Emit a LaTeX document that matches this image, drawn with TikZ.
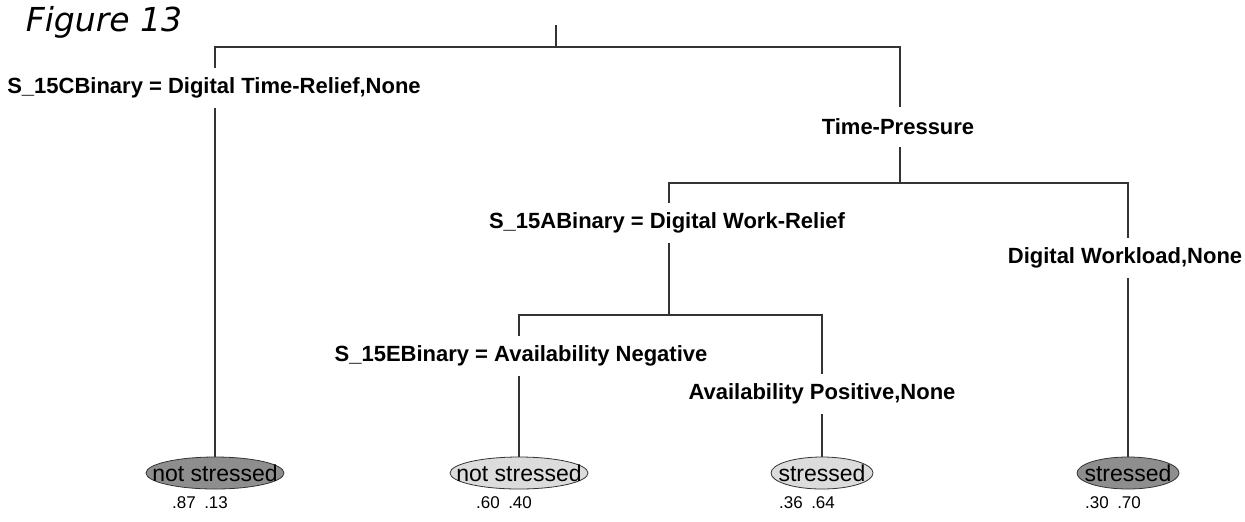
\documentclass[tikz,border=0pt]{standalone}
\usepackage{fontspec}
\setmainfont{Liberation Sans}
\newfontfamily\titlefont{DejaVu Sans}
\usetikzlibrary{shapes.geometric}

\definecolor{darkleaf}{HTML}{8E8E8E}
\definecolor{lightleaf}{HTML}{DCDCDC}
\definecolor{treeline}{HTML}{333333}

\tikzset{
    split/.style={fill=white, inner xsep=2pt, minimum height=20pt, font=\fontsize{11}{13}\selectfont\bfseries},
    leaf/.style={ellipse, draw=treeline, inner sep=0pt, minimum height=16pt, font=\fontsize{11.5}{13}\selectfont},
    prob/.style={font=\fontsize{8.5}{10}\selectfont},
    branch/.style={draw=treeline, line width=0.75pt}
}

\begin{document}
\begin{tikzpicture}[x=0.5pt, y=-0.5pt]

        % Fix the page to the reference size
        \useasboundingbox (0,0) rectangle (1245,521);

        % Title
        \node[font=\titlefont\itshape\fontsize{16.5}{18}\selectfont] (title) at (104,22) {Figure 13};

        % Root and branching points
        \coordinate (root) at (556,25);
        \coordinate (J0) at (556,47);
        \coordinate (J1) at (900,183);
        \coordinate (J2) at (669,315);

        % Leaves
        \node[leaf, fill=darkleaf, minimum width=69pt] (L1) at (215,473) {\makebox[0pt]{not stressed}};
        \node[leaf, fill=lightleaf, minimum width=69pt] (L2) at (519,473) {\makebox[0pt]{not stressed}};
        \node[leaf, fill=lightleaf, minimum width=51pt] (L3) at (822,473) {\makebox[0pt]{stressed}};
        \node[leaf, fill=darkleaf, minimum width=51pt] (L4) at (1128,473) {\makebox[0pt]{stressed}};

        % Class proportions under each leaf
        \node[prob] (P1) at (200,503) {.87\enspace.13};
        \node[prob] (P2) at (504,503) {.60\enspace.40};
        \node[prob] (P3) at (807,503) {.36\enspace.64};
        \node[prob] (P4) at (1113,503) {.30\enspace.70};

        % Branches of the tree
        \draw[branch] (root) -- (J0) -| (L1.north);
        \draw[branch] (J0) -| (J1);
        \draw[branch] (J1) -| (J2);
        \draw[branch] (J1) -| (L4.north);
        \draw[branch] (J2) -| (L2.north);
        \draw[branch] (J2) -| (L3.north);

        % Split labels on top of the branches
        \node[split] (S1) at (214,88) {S\_15CBinary = Digital Time-Relief,None};
        \node[split] (S2) at (898,127) {Time-Pressure};
        \node[split] (S3) at (667,223) {S\_15ABinary = Digital Work-Relief};
        \node[split] (S4) at (1125,258) {Digital Workload,None};
        \node[split] (S5) at (521,356) {S\_15EBinary = Availability Negative};
        \node[split] (S6) at (822,394) {Availability Positive,None};

\end{tikzpicture}
\end{document}
